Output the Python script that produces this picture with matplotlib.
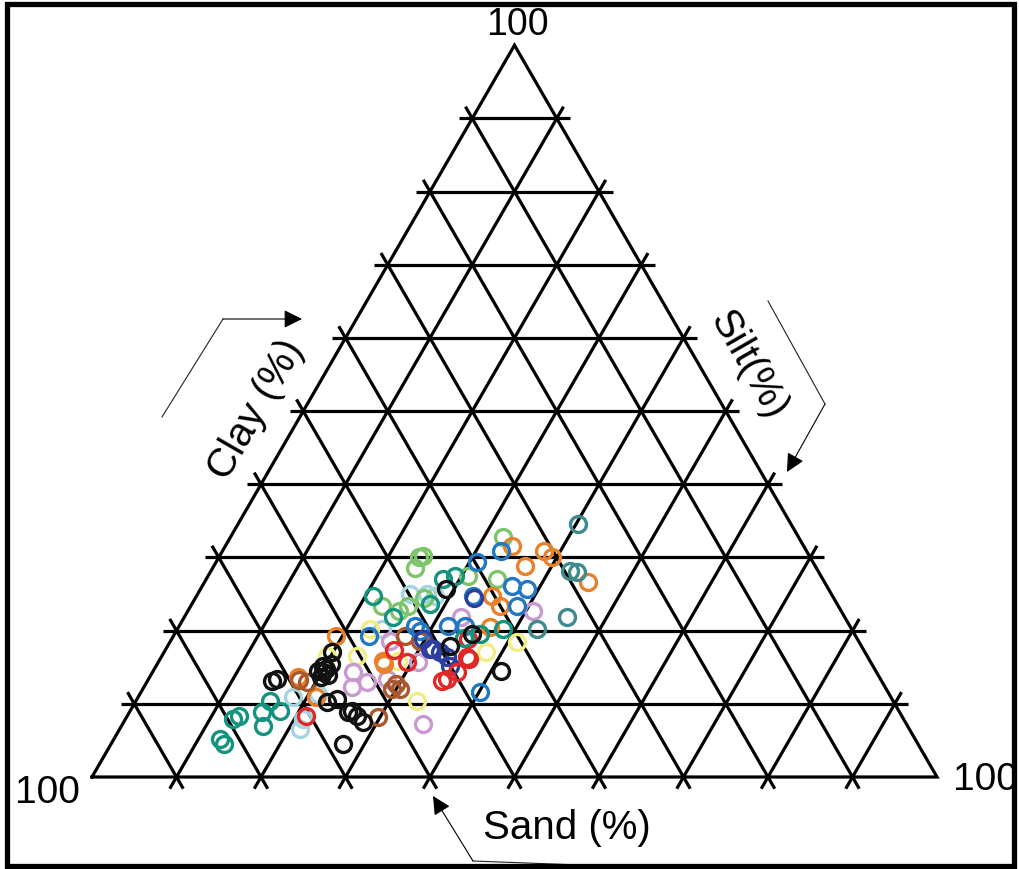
import numpy as np
import matplotlib
matplotlib.use("Agg")
import matplotlib.pyplot as plt
from matplotlib.patches import Rectangle

plt.rcParams['font.family'] = ['Liberation Sans', 'DejaVu Sans']

# ---------------- data (clay %, silt %; sand = 100 - clay - silt) ----------------
black_clay = [13.4, 13.1, 14.4, 15.2, 13.7, 14.8, 17.1, 10.3, 10.7, 8.9, 8.3, 7.5, 9.0, 4.5, 17.9, 19.6, 14.5, 25.7,
              14.5, 14.0, 15.5]
black_silt = [15.2, 14.8, 20.1, 19.7, 20.2, 20.3, 19.9, 22.7, 23.7, 25.8, 27.2, 28.3, 26.3, 27.4, 33.4, 35.2, 41.2, 29.1,
              19.5, 20.9, 20.5]

teal_clay = [5.2, 4.5, 7.9, 8.3, 7.0, 8.9, 10.4, 9.0, 24.8, 21.9, 23.7, 27.1, 27.4, 19.6, 20.2, 19.0]
teal_silt = [12.5, 13.4, 12.7, 13.3, 16.7, 15.7, 15.9, 17.7, 20.9, 24.7, 28.2, 28.0, 29.3, 36.1, 38.5, 34.5]

greyteal_clay = [34.6, 28.2, 28.0, 21.9, 20.2]
greyteal_silt = [40.2, 42.5, 43.4, 45.3, 42.6]

orange_clay = [31.5, 30.9, 30.1, 28.9, 26.7, 24.8, 23.4, 20.5, 15.9, 19.3, 13.7, 10.9, 15.5]
orange_silt = [34.0, 38.1, 39.4, 36.8, 45.3, 34.9, 36.6, 36.8, 26.5, 19.2, 17.5, 21.1, 26.8]

brown_clay = [13.0, 8.2, 12.0, 12.0, 12.7, 19.3, 18.6, 13.3]
brown_silt = [18.9, 29.7, 29.5, 30.4, 29.6, 27.4, 29.5, 17.8]

green_clay = [30.1, 30.2, 28.5, 23.3, 22.7, 23.3, 32.8, 27.4, 27.1, 24.5]
green_silt = [23.6, 24.1, 24.0, 22.7, 25.0, 25.8, 32.2, 30.8, 34.4, 27.0]

blue_clay = [30.9, 29.4, 26.1, 25.7, 24.8, 23.3, 19.3, 20.7, 20.0, 20.7, 11.6, 20.6]
blue_silt = [33.0, 30.9, 36.6, 38.6, 32.7, 38.7, 23.1, 27.9, 28.8, 31.8, 40.1, 33.8]

navy_clay = [17.5, 16.4, 15.2, 17.1, 17.5, 24.4, 18.8]
navy_silt = [31.6, 33.8, 34.8, 32.6, 31.2, 33.0, 29.8]

red_clay = [8.3, 15.7, 16.4, 13.1, 16.1, 14.4, 18.9, 13.4, 17.4]
red_silt = [21.2, 29.4, 36.2, 34.9, 36.6, 36.0, 35.0, 35.3, 27.0]

lilac_clay = [14.4, 13.0, 13.4, 18.6, 15.7, 21.9, 22.7, 7.3, 12.3]
lilac_silt = [23.7, 26.0, 28.2, 26.0, 30.7, 32.7, 40.8, 35.5, 24.6]

yellow_clay = [16.6, 16.6, 20.2, 10.4, 18.5, 17.1, 15.8]
yellow_silt = [19.5, 23.1, 22.8, 33.3, 41.1, 38.1, 28.3]

lightblue_clay = [10.9, 6.6, 7.9, 11.4, 25.0, 25.0, 24.8, 20.2]
lightblue_silt = [18.3, 21.3, 21.0, 21.0, 25.1, 27.1, 28.2, 24.2]

groups = [
    ("#a4d4e0", lightblue_clay, lightblue_silt),
    ("#f1ec84", yellow_clay, yellow_silt),
    ("#c99ad0", lilac_clay, lilac_silt),
    ("#7dc46c", green_clay, green_silt),
    ("#e8812b", orange_clay, orange_silt),
    ("#a8582c", brown_clay, brown_silt),
    ("#2278c2", blue_clay, blue_silt),
    ("#2d3f9c", navy_clay, navy_silt),
    ("#e02828", red_clay, red_silt),
    ("#3f8a8c", greyteal_clay, greyteal_silt),
    ("#15937f", teal_clay, teal_silt),
    ("#111111", black_clay, black_silt),
]

grid_levels = np.arange(10, 100, 10)

# ---------------- figure ----------------
H = np.sqrt(3) / 2
SCALE = 845.0  # pixels per triangle side
fig = plt.figure(figsize=(10.2, 8.7), dpi=100)
ax = fig.add_axes([0, 0, 1, 1])
ax.set_xlim(-92 / SCALE, 928 / SCALE)
ax.set_ylim(-92 / SCALE, 778 / SCALE)
ax.axis('off')


def tern(clay, silt):
    clay = np.asarray(clay, float) / 100.0
    silt = np.asarray(silt, float) / 100.0
    return silt + clay / 2.0, clay * H


def px(xp, yp):
    return (xp - 92) / SCALE, (778 - yp) / SCALE


# triangle outline
ax.plot([0, 1, 0.5, 0], [0, 0, H, 0], color='black', lw=2.3, solid_joinstyle='miter', zorder=2)

# grid lines with tick extensions
e = 0.016
for lev in grid_levels:
    f = lev / 100.0
    segs = [
        ((f / 2, f * H), (1 - f / 2, f * H)),                       # constant clay
        ((f, 0), (f + (1 - f) / 2, (1 - f) * H)),                    # constant silt
        ((1 - f, 0), ((1 - f) / 2, (1 - f) * H)),                    # constant sand
    ]
    for (x0, y0), (x1, y1) in segs:
        d = np.array([x1 - x0, y1 - y0])
        d = d / np.linalg.norm(d)
        ax.plot([x0 - e * d[0], x1 + e * d[0]], [y0 - e * d[1], y1 + e * d[1]],
                color='black', lw=2.3, zorder=2, solid_capstyle='butt')

# points
for color, cl, si in groups:
    x, y = tern(cl, si)
    ax.plot(x, y, 'o', ms=11.5, mfc='none', mec=color, mew=2.4, zorder=3, ls='none')

# vertex labels
ax.text(*px(517, 25), "100", fontsize=27, ha='center', va='center')
ax.text(*px(47, 793), "100", fontsize=28, ha='center', va='center')
ax.text(*px(953, 780), "100", fontsize=28, ha='left', va='center')

# axis titles
ax.text(*px(567, 828), "Sand (%)", fontsize=29, ha='center', va='center')
ax.text(*px(256, 410), "Clay (%)", fontsize=29, ha='center', va='center', rotation=60,
        rotation_mode='anchor')
ax.text(*px(748, 365), "Silt(%)", fontsize=29, ha='center', va='center', rotation=-60,
        rotation_mode='anchor')

# arrows
alw = 0.8
acol = '#222222'
ax.plot(*zip(px(162, 418), px(223, 320)), color=acol, lw=alw)
ax.annotate("", xy=px(302, 320), xytext=px(223, 320),
            arrowprops=dict(arrowstyle='-|>', color='black', lw=alw, mutation_scale=28,
                            shrinkA=0, shrinkB=0))
ax.plot(*zip(px(768, 302), px(825, 405)), color=acol, lw=alw)
ax.annotate("", xy=px(787, 473), xytext=px(825, 405),
            arrowprops=dict(arrowstyle='-|>', color='black', lw=alw, mutation_scale=28,
                            shrinkA=0, shrinkB=0))
ax.plot(*zip(px(580, 866), px(473, 862)), color=acol, lw=alw)
ax.annotate("", xy=px(433, 797), xytext=px(473, 862),
            arrowprops=dict(arrowstyle='-|>', color='black', lw=alw, mutation_scale=28,
                            shrinkA=0, shrinkB=0))

# outer frame
fig.add_artist(Rectangle((7 / 1020, 3 / 870), 1007 / 1020, 862 / 870, transform=fig.transFigure,
                         fill=False, edgecolor='black', lw=3.8, zorder=10))

fig.savefig("out.png", dpi=100, facecolor='white')
